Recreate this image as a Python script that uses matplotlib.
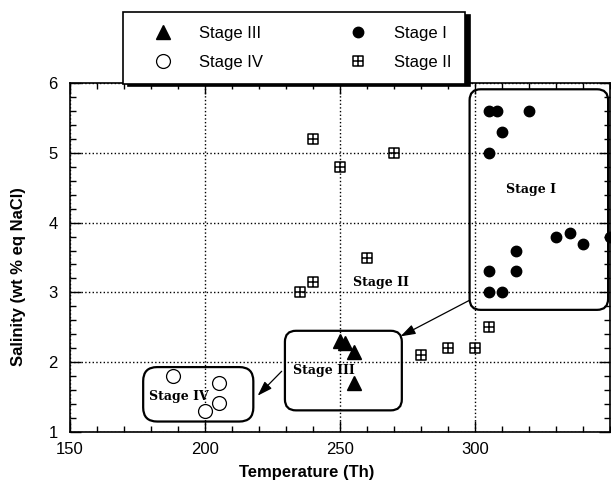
import numpy as np
import matplotlib
matplotlib.use('Agg')
import matplotlib.pyplot as plt
from matplotlib.path import Path
from matplotlib.patches import FancyBboxPatch
from matplotlib.ticker import MultipleLocator, FixedLocator

# ── Data ──────────────────────────────────────────────────────────────────────
stage1_t = [305, 308, 320, 310, 305, 330, 335, 340, 350, 315, 305, 315, 305, 310]
stage1_s = [5.6, 5.6, 5.6, 5.3, 5.0, 3.8, 3.85, 3.7, 3.8, 3.6, 3.3, 3.3, 3.0, 3.0]

stage2_t = [240, 250, 270, 260, 240, 235, 280, 290, 300, 305]
stage2_s = [5.2, 4.8, 5.0, 3.5, 3.15, 3.0, 2.1, 2.2, 2.2, 2.5]

stage3_t = [250, 252, 255, 255]
stage3_s = [2.3, 2.28, 2.15, 1.7]

stage4_t = [188, 205, 205, 200]
stage4_s = [1.8, 1.7, 1.42, 1.3]

x_ticks = [150, 200, 250, 300]

# rounded boxes: (x0, x1, y0, y1, corner radius px)
boxes = [(298, 349.3, 2.75, 5.91, 11),
         (229.6, 272.9, 1.31, 2.45, 11),
         (177.1, 217.9, 1.15, 1.93, 14)]
labels = [('Stage I', 320.9, 4.47), ('Stage II', 265.2, 3.14),
          ('Stage III', 244.2, 1.88), ('Stage IV', 190.3, 1.51)]
arrows = [((298.1, 2.89), (272.4, 2.37)),
          ((228.4, 1.87), (219.5, 1.52))]

# square with a cross through it
sq_cross = Path([(-1, -1), (1, -1), (1, 1), (-1, 1), (-1, -1),
                 (0, -1), (0, 1), (-1, 0), (1, 0)],
                [Path.MOVETO, Path.LINETO, Path.LINETO, Path.LINETO, Path.CLOSEPOLY,
                 Path.MOVETO, Path.LINETO, Path.MOVETO, Path.LINETO])

plt.rcParams['font.family'] = ['Liberation Sans', 'DejaVu Sans']

W, H = 611, 486
fig = plt.figure(figsize=(W / 100, H / 100), dpi=100)
ax = fig.add_axes([70 / W, 54 / H, 540 / W, 349 / H])

XMIN, XMAX, YMIN, YMAX = 150, 350, 1, 6
ax.set_xlim(XMIN, XMAX)
ax.set_ylim(YMIN, YMAX)

h3, = ax.plot(stage3_t, stage3_s, ls='none', marker='^', ms=10, color='k', clip_on=False)
h4, = ax.plot(stage4_t, stage4_s, ls='none', marker='o', ms=10, mfc='white', mec='k',
              mew=0.9, clip_on=False)
h1, = ax.plot(stage1_t, stage1_s, ls='none', marker='o', ms=7.5, color='k')
h2, = ax.plot(stage2_t, stage2_s, ls='none', marker=sq_cross, ms=7.5, mfc='none', mec='k',
              mew=1.1)

# rounded boxes need an aspect correction since x/y scales differ a lot
px_x = 540 / (XMAX - XMIN)
px_y = 349 / (YMAX - YMIN)
aspect = px_x / px_y
for x0, x1, y0, y1, r in boxes:
    ax.add_patch(FancyBboxPatch((x0, y0), x1 - x0, y1 - y0,
                                boxstyle=f'round,pad=0,rounding_size={r / px_x}',
                                mutation_aspect=aspect, fc='none', ec='k', lw=1.6,
                                zorder=1))

for txt, x, y in labels:
    ax.text(x, y, txt, ha='center', va='center', fontsize=9, fontweight='bold',
            family='DejaVu Serif')

for start, end in arrows:
    ax.annotate('', xy=end, xytext=start,
                arrowprops=dict(arrowstyle='-|>,head_length=0.9,head_width=0.3',
                                color='k', lw=0.9, shrinkA=0, shrinkB=0))

# axes styling
ax.xaxis.set_major_locator(FixedLocator(x_ticks))
ax.xaxis.set_minor_locator(MultipleLocator(10))
ax.yaxis.set_major_locator(MultipleLocator(1))
ax.yaxis.set_minor_locator(MultipleLocator(0.2))
ax.tick_params(which='both', direction='in', top=True, right=True, width=1, labelsize=12)
ax.tick_params(which='major', length=8)
ax.tick_params(which='minor', length=4)
ax.tick_params(axis='x', pad=7)
ax.tick_params(axis='y', pad=9)
ax.grid(True, which='major', ls=':', color='k', lw=1)
for sp in ax.spines.values():
    sp.set_linewidth(1.2)

ax.set_xlabel('Temperature (Th)', fontsize=12, fontweight='bold')
ax.set_ylabel('Salinity (wt % eq NaCl)', fontsize=12, fontweight='bold')
ax.xaxis.set_label_coords(0.439, -0.095)
ax.yaxis.set_label_coords(-0.081, 0.444)

leg = fig.legend([h3, h4, h1, h2], ['Stage III', 'Stage IV', 'Stage I', 'Stage II'],
                 ncol=2, loc='upper left', bbox_to_anchor=(123 / W, 1 - 12 / H),
                 fontsize=12, frameon=True, fancybox=False, borderpad=0.85,
                 handlelength=3.1, handletextpad=0.6, columnspacing=4.15,
                 labelspacing=0.8, borderaxespad=0,
                 shadow={'color': 'k', 'alpha': 1, 'ox': 3.5, 'oy': -2})
leg.get_frame().set_edgecolor('k')
leg.get_frame().set_linewidth(1.2)

fig.savefig('out.png', dpi=100)
